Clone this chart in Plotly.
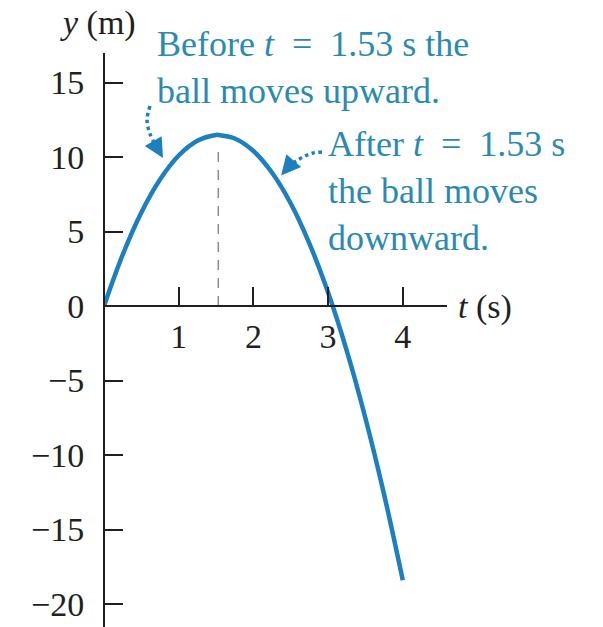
import plotly.graph_objects as go

# Height of a ball thrown straight up, read at quarter-second steps
t_s = [0.0, 0.25, 0.5, 0.75, 1.0, 1.25, 1.5, 1.53, 1.75, 2.0, 2.25, 2.5,
       2.75, 3.0, 3.25, 3.5, 3.75, 4.0]
y_m = [0.0, 3.44, 6.28, 8.49, 10.1, 11.09, 11.48, 11.48, 11.24, 10.4, 8.94,
       6.88, 4.19, 0.9, -3.01, -7.53, -12.66, -18.4]

t_peak = 1.53
y_peak_guide = 10.7

x_ticks = [1, 2, 3, 4]
y_ticks = [15, 10, 5, 0, -5, -10, -15, -20]
y_tick_text = ["15", "10", "5", "0", "\u22125", "\u221210", "\u221215", "\u221220"]

# dotted callout arrows (t, y) leading onto the curve
arrow_up_t = [0.616, 0.576, 0.616, 0.696, 0.79]
arrow_up_y = [13.42, 12.48, 11.54, 10.74, 9.93]
arrow_down_t = [2.918, 2.798, 2.691, 2.597, 2.49, 2.37]
arrow_down_y = [10.34, 10.27, 10.07, 9.80, 9.46, 8.76]

W, H = 603, 627
curve_col = "#1b7fc0"
text_col = "#2a8ab2"
ink = "#231f20"
serif = "Liberation Serif, Times New Roman, serif"
fs_tick = 34
fs_text = 36
eq = "\u2002=\u2002"

fig = go.Figure()

fig.add_trace(go.Scatter(x=[t_peak, t_peak], y=[0, y_peak_guide], mode="lines",
                         line=dict(color="#8a8a8a", width=1.5, dash="10px,8px"),
                         hoverinfo="skip"))
fig.add_trace(go.Scatter(x=t_s, y=y_m, mode="lines",
                         line=dict(color=curve_col, width=4.5, shape="spline"),
                         hoverinfo="skip"))
for at, ay in ((arrow_up_t, arrow_up_y), (arrow_down_t, arrow_down_y)):
    fig.add_trace(go.Scatter(x=at[:-1], y=ay[:-1], mode="lines",
                             line=dict(color=curve_col, width=3.5, dash="dot",
                                       shape="spline"),
                             hoverinfo="skip"))

ann = []
for at, ay in ((arrow_up_t, arrow_up_y), (arrow_down_t, arrow_down_y)):
    ann.append(dict(x=at[-1], y=ay[-1], ax=at[-2], ay=ay[-2], xref="x", yref="y",
                    axref="x", ayref="y", text="", showarrow=True, arrowhead=2,
                    arrowsize=1.3, arrowwidth=3, arrowcolor=curve_col))

def paper(px, py):
    return px / W, 1 - py / H

def label(px, py, text, color, size):
    x, y = paper(px, py)
    ann.append(dict(x=x, y=y, xref="paper", yref="paper", text=text,
                    showarrow=False, xanchor="left", yanchor="top", align="left",
                    font=dict(family=serif, size=size, color=color)))

label(155, 22, f"Before <i>t</i>{eq}1.53 s the<br>ball moves upward.", text_col, fs_text)
label(326, 122, f"After <i>t</i>{eq}1.53 s<br>the ball moves<br>downward.", text_col, fs_text)
label(58, 2, "<i>y</i> (m)", ink, fs_tick)
label(456, 286, "<i>t</i> (s)", ink, fs_tick)

fig.update_layout(
    width=W, height=H, margin=dict(l=0, r=0, t=0, b=0),
    paper_bgcolor="white", plot_bgcolor="white", showlegend=False,
    annotations=ann,
    xaxis=dict(domain=[104 / W, 447 / W], range=[0, 343 / 74.7],
               anchor="free", position=(H - 306) / H,
               showline=True, linecolor=ink, linewidth=2,
               ticks="inside", ticklen=18, tickwidth=2, tickcolor=ink,
               tickvals=x_ticks, ticktext=[str(v) for v in x_ticks],
               tickfont=dict(family=serif, size=fs_tick, color=ink),
               showgrid=False, zeroline=False, fixedrange=True),
    yaxis=dict(domain=[0, (H - 53) / H], range=[-321 / 14.9, 253 / 14.9],
               anchor="free", position=104 / W,
               showline=True, linecolor=ink, linewidth=2,
               ticks="inside", ticklen=18, tickwidth=2, tickcolor=ink,
               tickvals=y_ticks, ticktext=y_tick_text, ticklabelstandoff=12,
               tickfont=dict(family=serif, size=fs_tick, color=ink),
               showgrid=False, zeroline=False, fixedrange=True),
)

fig.write_html("out.html")
